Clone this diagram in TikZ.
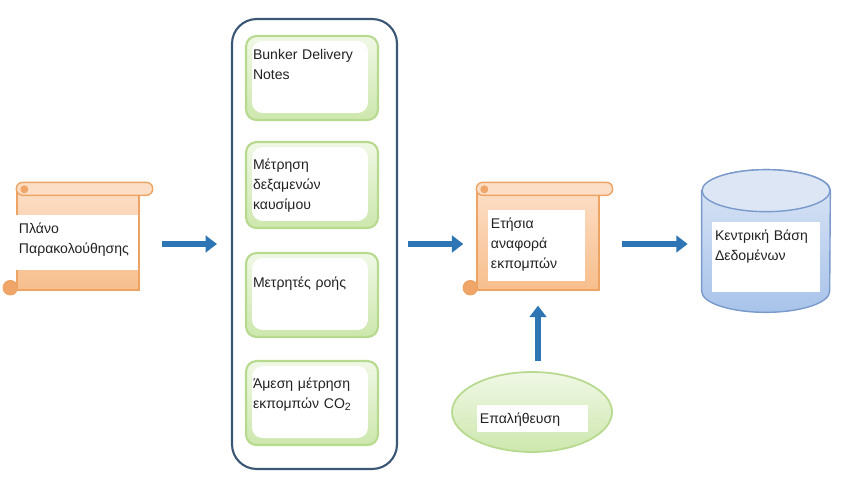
\documentclass[tikz,border=0pt]{standalone}
\usepackage{fontspec}
\setmainfont{Liberation Sans}
\usetikzlibrary{arrows.meta,shapes.geometric}

\definecolor{flowblue}{RGB}{46,117,182}
\definecolor{boxline}{RGB}{59,87,117}
\definecolor{leafline}{RGB}{183,218,143}
\definecolor{leaftop}{RGB}{240,248,230}
\definecolor{leafbot}{RGB}{205,231,173}
\definecolor{paperline}{RGB}{236,163,100}
\definecolor{papertop}{RGB}{252,222,198}
\definecolor{paperbot}{RGB}{247,190,140}
\definecolor{curlfill}{RGB}{240,166,105}
\definecolor{dbline}{RGB}{122,154,204}
\definecolor{dbtop}{RGB}{220,230,245}
\definecolor{dbbot}{RGB}{168,195,234}
\definecolor{inktext}{RGB}{34,34,34}

\tikzset{
  txt/.style={font=\fontsize{8}{11.5}\selectfont, text=inktext},
  flow/.style={draw=flowblue, line width=3.8pt, -{Triangle[length=6.5pt,width=9.5pt]}},
  roll/.style={draw=paperline, line width=0.8pt, fill=papertop},
}

% rolls of a scroll, drawn over its body
\newcommand{\rolls}[1]{%
  \draw[roll, rounded corners=3.6pt] ([shift={(0,-6)}]#1.north west) rectangle ([shift={(13,7)}]#1.north east);
  \fill[curlfill] ([shift={(8,0)}]#1.north west) circle[radius=4];
  \draw[roll, fill=curlfill] ([shift={(-6,3)}]#1.south west) circle[radius=7];
}

\begin{document}
\begin{tikzpicture}[x=0.02cm, y=0.02cm,
    frame/.style={draw=boxline, line width=1.2pt, rounded corners=14pt,
      minimum width=3.3cm, minimum height=9cm},
    leaf/.style={txt, draw=leafline, line width=1.2pt, rounded corners=6pt,
      top color=leaftop, bottom color=leafbot, inner xsep=0.14cm, inner ysep=0pt,
      text width=2.36cm, align=left, text height=0.54cm, text depth=1.14cm,
      path picture={\fill[white] ([shift={(6,-5)}]path picture bounding box.north west)
        rectangle ([shift={(-10,7)}]path picture bounding box.south east);}},
    paper/.style={draw=paperline, line width=0.8pt, top color=papertop, bottom color=paperbot,
      minimum width=2.44cm, minimum height=2cm, inner sep=0pt},
    note/.style={txt, fill=white, inner xsep=1.5pt, inner ysep=0pt, anchor=north west,
      align=left, text height=0.36cm}]
  \useasboundingbox (0,0) rectangle (864,488);

  % monitoring plan
  \node[paper] (plan) at (78,248) {};
  \rolls{plan}
  \node[note, text width=2.33cm, text depth=0.74cm] (plan text) at (16,273) {Πλάνο\\Παρακολούθησης};

  % data sources
  \node[frame] (store) at (314.5,244) {};
  \node[leaf, text height=0.46cm, text depth=1.22cm] (bdn) at (312,410) {Bunker Delivery\\Notes};
  \node[leaf, text depth=1.18cm] (tanks) at (312,303) {Μέτρηση\\δεξαμενών\\καυσίμου};
  \node[leaf, text height=0.68cm, text depth=1.0cm] (meters) at (312,193) {Μετρητές ροής};
  \node[leaf] (direct) at (312,85) {Άμεση μέτρηση\\εκπομπών CO\textsubscript{2}};

  % annual report
  \node[paper] (report) at (538,248) {};
  \rolls{report}
  \node[note, text width=1.83cm, text depth=1.06cm] (report text) at (488,278) {Ετήσια\\αναφορά\\εκπομπών};

  % central database
  \node[minimum width=2.56cm, minimum height=2.84cm, inner sep=0pt] (db) at (766,247) {};
  \draw[draw=dbline, line width=0.8pt, top color=dbtop, bottom color=dbbot]
    ([shift={(0,-21)}]db.north west) -- ([shift={(0,21)}]db.south west)
    arc[start angle=180, end angle=360, x radius=64, y radius=21]
    -- ([shift={(0,-21)}]db.north east)
    arc[start angle=0, end angle=180, x radius=64, y radius=21] -- cycle;
  \draw[draw=dbline, line width=0.8pt, fill=dbtop] ([shift={(0,-21)}]db.north) ellipse[x radius=64, y radius=21];
  \node[note, text width=2.05cm, text depth=1.04cm] (db text) at (712,266) {Κεντρική Βάση\\Δεδομένων};

  % verification
  \node[ellipse, draw=leafline, line width=1pt, top color=leaftop, bottom color=leafbot,
    minimum width=3.2cm, minimum height=1.6cm, inner sep=0pt] (check) at (532,76) {};
  \node[note, text width=2.11cm, text depth=0.18cm] (check text) at (477,83) {Επαλήθευση};

  % flow
  \draw[flow, shorten <=0.44cm, shorten >=0.28cm] (plan.east |- store.west) -- (store.west);
  \draw[flow, shorten <=0.2cm, shorten >=0.26cm] (store.east) -- (store.east -| report.west);
  \draw[flow, shorten <=0.44cm, shorten >=0.28cm] (report.east |- store.east) -- (db.west |- store.east);
  \draw[flow, shorten <=0.2cm, shorten >=0.3cm] (check.north -| report.south) -- (report.south);
\end{tikzpicture}
\end{document}
